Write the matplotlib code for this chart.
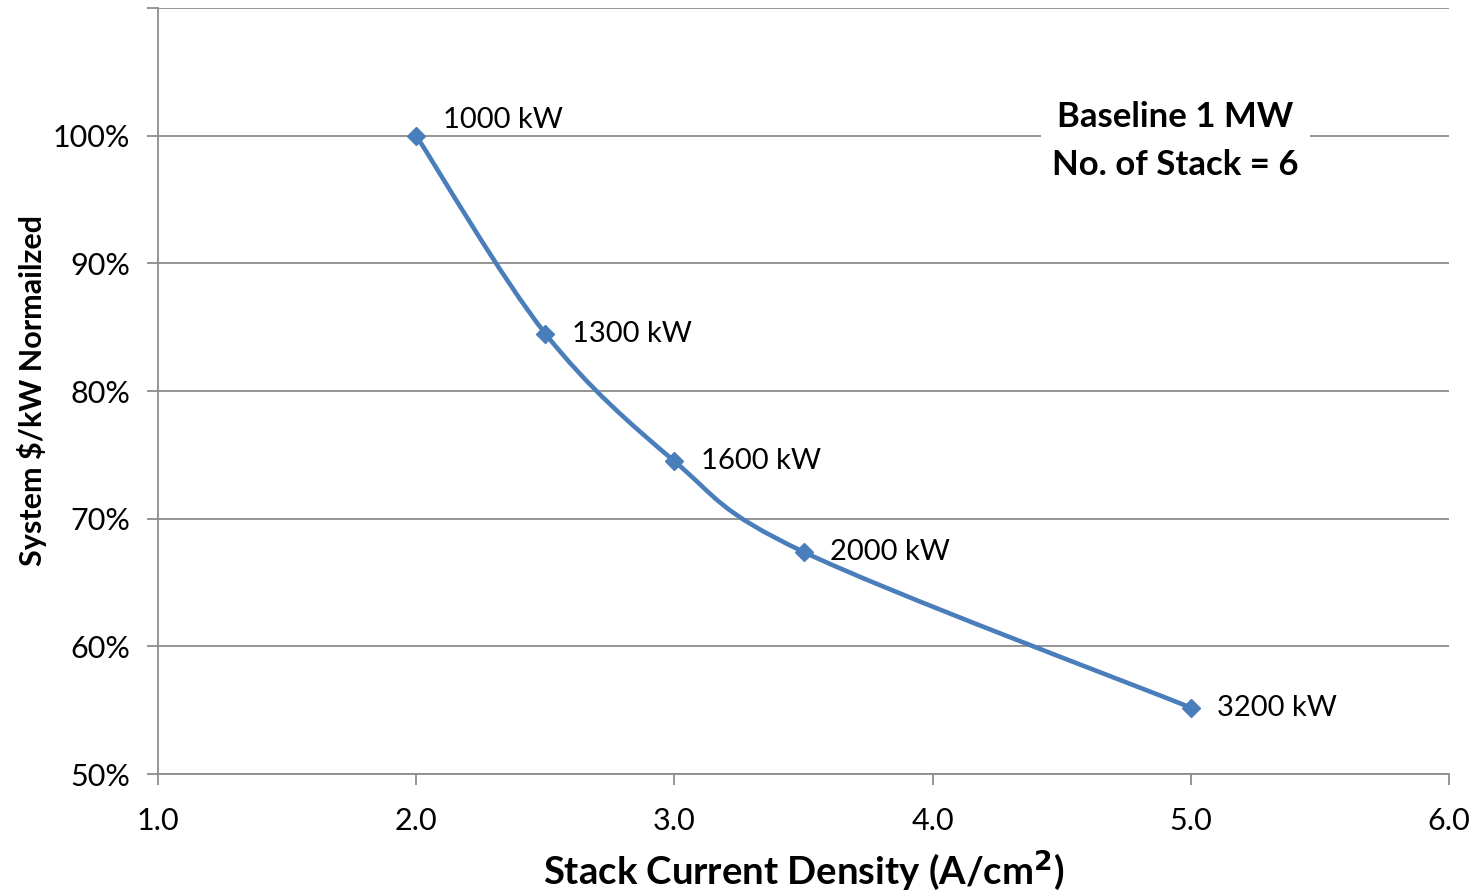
import matplotlib
matplotlib.use("Agg")
import matplotlib.pyplot as plt
import numpy as np
from matplotlib.path import Path
from matplotlib.patches import PathPatch
from matplotlib.transforms import IdentityTransform
from matplotlib.ticker import FuncFormatter

plt.rcParams['font.family'] = ['Lato', 'DejaVu Sans']

current_density = [2.0, 2.5, 3.0, 3.5, 5.0]
normalized_cost = [100.0, 84.5, 74.5, 67.4, 55.2]
point_labels = ["1000 kW", "1300 kW", "1600 kW", "2000 kW", "3200 kW"]
x_ticks = [1.0, 2.0, 3.0, 4.0, 5.0, 6.0]
y_ticks = [50, 60, 70, 80, 90, 100, 110]

W, H = 1479, 893
fig = plt.figure(figsize=(W / 100, H / 100), dpi=100)
ax = fig.add_axes([158 / W, (H - 774) / H, (1449 - 158) / W, (774 - 8) / H])

ax.set_xlim(1.0, 6.0)
ax.set_ylim(50, 110)
ax.set_xticks(x_ticks)
ax.set_yticks(y_ticks)
ax.xaxis.set_major_formatter(FuncFormatter(lambda v, p: f"{v:.1f}"))
ax.yaxis.set_major_formatter(FuncFormatter(lambda v, p: "" if v > 100 else f"{v:.0f}%"))

grid_c = '#8c8c8c'
ax.grid(axis='y', color=grid_c, linewidth=1.3, zorder=0)
for s in ['top', 'right']:
    ax.spines[s].set_visible(False)
for s in ['left', 'bottom']:
    ax.spines[s].set_color(grid_c)
    ax.spines[s].set_linewidth(1.3)
ax.tick_params(axis='both', direction='out', length=8, width=1.3, color=grid_c,
               labelsize=22, labelcolor='black')
ax.tick_params(axis='x', pad=16)
ax.tick_params(axis='y', pad=12)

ax.set_xlabel("Stack Current Density (A/cm$^{\\mathbf{2}}$)", fontsize=27.5,
              fontweight='bold', labelpad=10)
ax.set_ylabel("System \\$/kW Normailzed", fontsize=22, fontweight='bold', labelpad=4)

line_c = '#4A7EBB'
# smoothed curve (Bezier through data points, computed in display space)
fig.canvas.draw()
pts = ax.transData.transform(np.column_stack([current_density, normalized_cost]))
n = len(pts)
verts = [pts[0]]
codes = [Path.MOVETO]
for i in range(n - 1):
    p0 = pts[i - 1] if i > 0 else pts[i]
    p1 = pts[i]
    p2 = pts[i + 1]
    p3 = pts[i + 2] if i + 2 < n else pts[i + 1]
    c1 = p1 + (p2 - p0) / 6.0
    c2 = p2 - (p3 - p1) / 6.0
    verts += [c1, c2, p2]
    codes += [Path.CURVE4] * 3
patch = PathPatch(Path(verts, codes), facecolor='none', edgecolor=line_c,
                  linewidth=3.3, transform=IdentityTransform(), zorder=3,
                  capstyle='round', joinstyle='round')
ax.add_patch(patch)
ax.plot(current_density, normalized_cost, linestyle='none', marker='D',
        markersize=9.5, color=line_c, zorder=4, clip_on=False)

for i, (x, y, lab) in enumerate(zip(current_density, normalized_cost, point_labels)):
    dy = 11 if i == 0 else 0
    ax.annotate(lab, (x, y), xytext=(19, dy), textcoords='offset points',
                ha='left', va='center', fontsize=21, color='black', zorder=5)

ax.text(4.94, 99.6, "Baseline 1 MW\nNo. of Stack = 6", ha='center', va='center',
        fontsize=25, fontweight='bold', linespacing=1.62, zorder=5,
        bbox=dict(facecolor='white', edgecolor='none', pad=8))
fig.savefig("out.png", dpi=100)
